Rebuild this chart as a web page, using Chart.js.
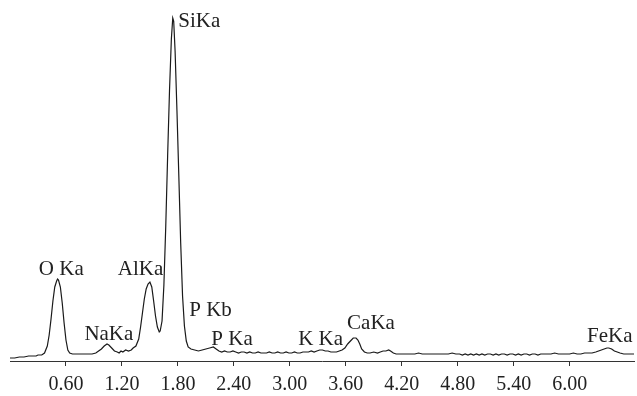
<!DOCTYPE html>
<html>
<head>
<meta charset="utf-8">
<script src="https://cdn.jsdelivr.net/npm/chart.js@4.4.0/dist/chart.umd.min.js"></script>
<style>
  body { margin: 0; background: #fff; }
  #wrap { width: 637px; height: 396px; }
</style>
</head>
<body>
<div id="wrap"><canvas id="eds-chart"></canvas></div>
<script>
// energy in keV, counts
let energy = [
  0.00, 0.05, 0.10, 0.15, 0.20, 0.25, 0.28, 0.30, 0.34, 0.37,
  0.40, 0.42, 0.44, 0.46, 0.48, 0.50, 0.51, 0.52, 0.54, 0.56, 0.58, 0.60, 0.62, 0.64, 0.67,
  0.72, 0.76, 0.80, 0.84, 0.88, 0.92, 0.95,
  0.98, 1.01, 1.04, 1.06, 1.09, 1.12, 1.15, 1.17, 1.19, 1.21, 1.24, 1.27, 1.30, 1.32, 1.35,
  1.38, 1.40, 1.42, 1.44, 1.46, 1.48, 1.50, 1.52, 1.54, 1.56, 1.58, 1.60, 1.61,
  1.63, 1.65, 1.67, 1.69, 1.71, 1.73, 1.745, 1.755, 1.77, 1.79, 1.81, 1.83, 1.85, 1.87, 1.89, 1.91,
  1.94, 1.98, 2.02, 2.06, 2.10, 2.14, 2.18, 2.21, 2.24, 2.27,
  2.30, 2.33, 2.36, 2.39, 2.42, 2.45, 2.48, 2.51, 2.54, 2.57, 2.60, 2.63, 2.66, 2.69, 2.72, 2.75,
  2.78, 2.81, 2.84, 2.87, 2.90, 2.93, 2.96, 2.99, 3.02, 3.05, 3.08, 3.11, 3.14, 3.17, 3.20, 3.23, 3.26,
  3.29, 3.32, 3.35, 3.38, 3.41, 3.44, 3.47, 3.50, 3.53, 3.56,
  3.59, 3.62, 3.65, 3.68, 3.71, 3.73, 3.75, 3.77, 3.80, 3.83, 3.86, 3.90, 3.94, 3.97, 4.00, 4.03,
  4.06, 4.08, 4.11, 4.14, 4.18,
  4.22, 4.26, 4.30, 4.34, 4.38, 4.42, 4.46, 4.50, 4.54, 4.58, 4.62, 4.66, 4.70, 4.74, 4.78, 4.82,
  4.85, 4.88, 4.91, 4.94, 4.97, 5.00, 5.03, 5.06, 5.09, 5.12, 5.15, 5.18, 5.21, 5.24, 5.27, 5.30,
  5.33, 5.36, 5.39, 5.42, 5.45, 5.48, 5.51, 5.54, 5.57, 5.60, 5.63, 5.66, 5.69, 5.72, 5.76, 5.80,
  5.84, 5.88, 5.92, 5.96, 6.00, 6.04, 6.08, 6.12, 6.16, 6.20, 6.24, 6.28,
  6.31, 6.34, 6.37, 6.40, 6.42, 6.45, 6.48, 6.51, 6.54, 6.58, 6.62, 6.66, 6.69
];
let counts = [
  3, 3, 4, 4, 5, 5, 5, 6, 6, 8,
  15, 26, 42, 60, 74, 80, 82, 81, 74, 58, 38, 21, 11, 8, 7,
  7, 7, 7, 7, 7, 8, 10,
  12, 15, 17, 16, 13, 10, 9, 8, 10, 9, 11, 10, 11, 13, 15,
  22, 34, 48, 62, 72, 77, 79, 74, 60, 45, 34, 29, 30,
  40, 76, 135, 205, 270, 322, 343, 340, 310, 250, 185, 118, 65, 35, 20, 14,
  12, 11, 10, 11, 12, 13, 14, 12, 10, 9,
  10, 9, 9, 10, 9, 8, 9, 9, 8, 9, 8, 8, 9, 8, 8, 8,
  9, 8, 8, 9, 8, 8, 9, 8, 8, 9, 8, 8, 9, 9, 9, 10, 9,
  10, 11, 11, 10, 10, 9, 9, 9, 10, 11,
  13, 17, 20, 23, 23, 21, 17, 12, 9, 8, 8, 9, 8, 9, 10, 10,
  11, 10, 8, 7, 7,
  7, 7, 7, 7, 8, 7, 7, 7, 7, 7, 7, 7, 7, 8, 7, 7,
  6, 7, 6, 7, 6, 7, 6, 7, 6, 7, 7, 6, 7, 6, 7, 7,
  6, 7, 7, 6, 7, 6, 7, 7, 6, 7, 7, 6, 7, 7, 7, 7,
  8, 7, 7, 7, 7, 8, 7, 7, 8, 8, 8, 9,
  10, 11, 12, 13, 13, 12, 10, 9, 8, 7, 7, 7, 7
];
let tickValues = [0.60, 1.20, 1.80, 2.40, 3.00, 3.60, 4.20, 4.80, 5.40, 6.00];

// peak labels: text, energy of label centre, count at label baseline
let peakNames = ["O Ka", "NaKa", "AlKa", "SiKa", "P Kb", "P Ka", "K Ka", "CaKa", "FeKa"];
let peakEnergy = [0.55, 1.06, 1.40, 2.03, 2.15, 2.38, 3.33, 3.87, 6.43];
let peakCount = [86, 21, 86, 334, 45, 16, 16, 32, 19];

let serif = "'Liberation Serif', 'Times New Roman', serif";

let peakLabels = {
  id: "peakLabels",
  afterDatasetsDraw(chart) {
    let ctx = chart.ctx;
    let xs = chart.scales.x;
    let ys = chart.scales.y;
    ctx.save();
    ctx.fillStyle = "#222";
    ctx.font = "21px " + serif;
    ctx.textAlign = "center";
    ctx.textBaseline = "alphabetic";
    for (let i = 0; i < peakNames.length; i++) {
      ctx.fillText(peakNames[i], xs.getPixelForValue(peakEnergy[i]), ys.getPixelForValue(peakCount[i]));
    }
    ctx.restore();
  }
};

let ctx = document.getElementById("eds-chart").getContext("2d");
let chart = new Chart(ctx, {
  type: "line",
  data: {
    datasets: [{
      data: energy.map((e, i) => ({ x: e, y: counts[i] })),
      borderColor: "#1a1a1a",
      borderWidth: 1.2,
      pointRadius: 0,
      tension: 0,
      fill: false
    }]
  },
  options: {
    responsive: true,
    maintainAspectRatio: false,
    animation: false,
    layout: { padding: { left: 10, right: 3, top: 11, bottom: 0 } },
    plugins: { legend: { display: false }, tooltip: { enabled: false } },
    scales: {
      x: {
        type: "linear",
        min: 0,
        max: 6.69,
        afterBuildTicks(scale) {
          scale.ticks = tickValues.map(v => ({ value: v }));
        },
        afterFit(scale) {
          scale.height = 35;
        },
        border: { display: true, color: "#333", width: 1 },
        grid: { drawOnChartArea: false, drawTicks: true, tickLength: 5, color: "#333" },
        ticks: {
          autoSkip: false,
          maxRotation: 0,
          padding: 7,
          color: "#222",
          font: { family: serif, size: 20 },
          callback: v => v.toFixed(2)
        }
      },
      y: {
        display: false,
        min: 0,
        max: 350
      }
    }
  },
  plugins: [peakLabels]
});
</script>
</body>
</html>
